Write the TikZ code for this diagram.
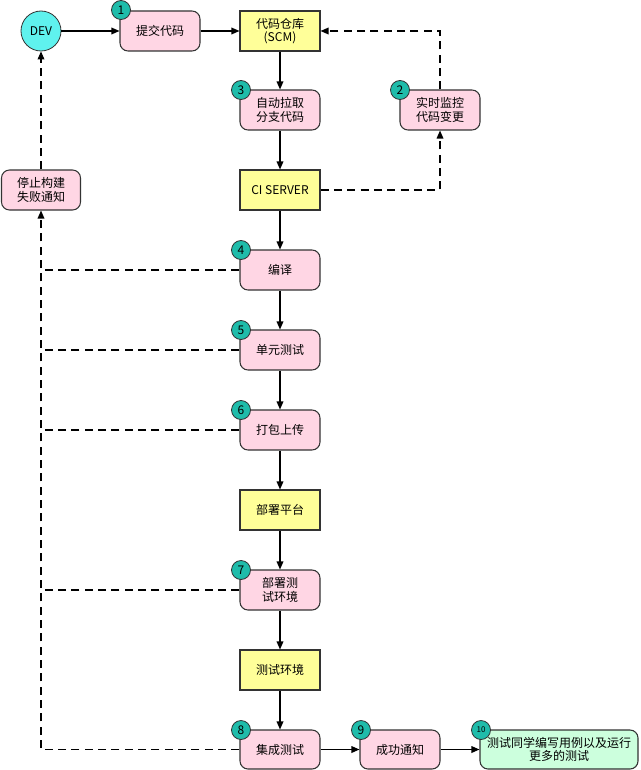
\documentclass[tikz,border=0pt]{standalone}
\usepackage{fontspec}
\setmainfont{Noto Sans CJK SC}
\usetikzlibrary{arrows.meta}
\definecolor{pinkf}{HTML}{FFD6E4}
\definecolor{yelf}{HTML}{FFFF99}
\definecolor{greenf}{HTML}{CCFFDD}
\definecolor{tealf}{HTML}{1FBCAA}
\definecolor{devf}{HTML}{5FF2EE}
\definecolor{edge}{HTML}{333333}
\tikzset{
  every node/.style={font=\fontsize{9}{10}\selectfont, align=center, text=black},
  pinkbox/.style={draw=edge, line width=0.8pt, fill=pinkf, rounded corners=6pt, minimum width=80*0.75pt, minimum height=40*0.75pt, inner sep=1pt},
  yelbox/.style={draw=edge, line width=0.8pt, fill=yelf, minimum width=80*0.75pt, minimum height=40*0.75pt, inner sep=1pt},
  greenbox/.style={draw=edge, line width=0.8pt, fill=greenf, rounded corners=6pt, minimum width=158*0.75pt, minimum height=39*0.75pt, inner sep=1pt},
  badge/.style={circle, draw=edge, line width=0.6pt, fill=tealf, minimum size=19*0.75pt, inner sep=0pt, font=\fontsize{9}{9}\selectfont},
  arr/.style={draw=black, line width=0.9pt, -{Triangle[length=6pt,width=5pt]}},
  darr/.style={arr, dash pattern=on 6pt off 4pt},
  dline/.style={draw=black, line width=0.9pt, dash pattern=on 6pt off 4pt},
}
\begin{document}
\begin{tikzpicture}[x=0.75pt,y=-0.75pt]
\useasboundingbox (0,0) rectangle (640,770);
\node[circle, draw=edge, line width=0.6pt, fill=devf, minimum size=40*0.75pt, inner sep=0pt] (dev) at (41,31) {DEV};
\node[pinkbox] (s1) at (160,31) {提交代码};
\node[yelbox] (scm) at (280,31) {代码仓库\\(SCM)};
\node[pinkbox] (s3) at (280,110) {自动拉取\\分支代码};
\node[pinkbox] (s2) at (440,110) {实时监控\\代码变更};
\node[yelbox] (ci) at (280,190) {CI SERVER};
\node[pinkbox, minimum width=79*0.75pt] (stop) at (41,190) {停止构建\\失败通知};
\node[pinkbox] (s4) at (280,270) {编译};
\node[pinkbox] (s5) at (280,350) {单元测试};
\node[pinkbox] (s6) at (280,430) {打包上传};
\node[yelbox] (plat) at (280,510) {部署平台};
\node[pinkbox] (s7) at (280,590) {部署测\\试环境};
\node[yelbox] (env) at (280,670) {测试环境};
\node[pinkbox, minimum height=39*0.75pt] (s8) at (280,749.5) {集成测试};
\node[pinkbox, minimum height=39*0.75pt] (s9) at (400,749.5) {成功通知};
\node[greenbox] (s10) at (559,749.5) {测试同学编写用例以及运行\\更多的测试};
% badges
\node[badge] (b1) at (121,10) {1};
\node[badge] (b2) at (400,90) {2};
\node[badge] (b3) at (241,90) {3};
\node[badge] (b4) at (241,250) {4};
\node[badge] (b5) at (241,330) {5};
\node[badge] (b6) at (241,410) {6};
\node[badge] (b7) at (241,570) {7};
\node[badge] (b8) at (241,730) {8};
\node[badge] (b9) at (361,730) {9};
\node[badge, font=\fontsize{6}{6}\selectfont] (b10) at (481,730) {10};
% solid arrows
\draw[arr] (dev) -- (s1);
\draw[arr] (s1) -- (scm);
\draw[arr] (scm) -- (s3);
\draw[arr] (s3) -- (ci);
\draw[arr] (ci) -- (s4);
\draw[arr] (s4) -- (s5);
\draw[arr] (s5) -- (s6);
\draw[arr] (s6) -- (plat);
\draw[arr] (plat) -- (s7);
\draw[arr] (s7) -- (env);
\draw[arr] (env) -- (s8);
\draw[arr] (s8) -- (s9);
\draw[arr] (s9) -- (s10);
% dashed
\coordinate (cir) at (440,190);
\coordinate (tup) at (440,31);
\draw[darr] (ci.east) -- (cir) -- (s2.south);
\draw[darr] (s2.north) -- (tup) -- (scm.east);
\coordinate (fb) at (41,749.5);
\draw[darr] (s8.west) -- (fb) -- (stop.south);
\draw[darr] (stop) -- (dev);
\coordinate (j4) at (41,270);
\coordinate (j5) at (41,350);
\coordinate (j6) at (41,430);
\coordinate (j7) at (41,590);
\draw[dline] (s4.west) -- (j4);
\draw[dline] (s5.west) -- (j5);
\draw[dline] (s6.west) -- (j6);
\draw[dline] (s7.west) -- (j7);
\end{tikzpicture}
\end{document}
